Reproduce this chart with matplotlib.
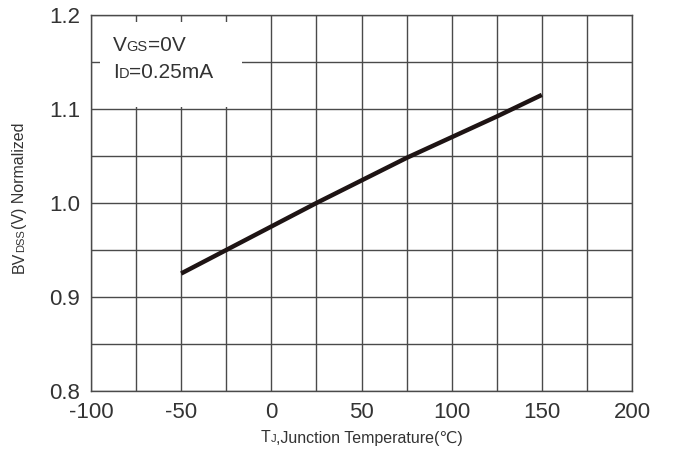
import matplotlib
matplotlib.use("Agg")
import matplotlib.pyplot as plt
from matplotlib import font_manager
from matplotlib.offsetbox import TextArea, HPacker, AnnotationBbox

# Normalized breakdown voltage vs junction temperature
temp_c = [-50, -25, 0, 25, 50, 75, 100, 125, 150]
bvdss_norm = [0.925, 0.950, 0.975, 1.000, 1.024, 1.048, 1.070, 1.092, 1.115]

x_major = [-100, -50, 0, 50, 100, 150, 200]
y_major = [0.8, 0.9, 1.0, 1.1, 1.2]

names = {f.name for f in font_manager.fontManager.ttflist}
fam = "Liberation Sans Narrow" if "Liberation Sans Narrow" in names else "Liberation Sans"
families = [fam, "DejaVu Sans"]
plt.rcParams["font.family"] = families

txt = "#333333"
grid = "#4a4a4a"

W, H = 674, 459
fig = plt.figure(figsize=(W / 100, H / 100), dpi=100)
ax = fig.add_axes([91 / W, 1 - 391 / H, (632 - 91) / W, (391 - 15) / H])

ax.set_xlim(-100, 200)
ax.set_ylim(0.8, 1.2)
xt = list(range(-100, 201, 25))
yt = [round(0.8 + 0.05 * i, 2) for i in range(9)]
ax.set_xticks(xt)
ax.set_yticks(yt)
ax.grid(True, color=grid, linewidth=1.0)
ax.set_axisbelow(True)
ax.tick_params(length=0, pad=8)
ax.set_xticklabels([str(v) if v in x_major else "" for v in xt], fontsize=16, color=txt)
ax.set_yticklabels([f"{v:.1f}" if any(abs(v - m) < 1e-9 for m in y_major) else "" for v in yt],
                   fontsize=16, color=txt)

for s in ax.spines.values():
    s.set_color(grid)
    s.set_linewidth(1.0)

ax.plot(temp_c, bvdss_norm, color="#1e1414", linewidth=3.2,
        solid_capstyle="butt", zorder=3)


def rich(parts):
    """Row of text pieces sharing one baseline (small-caps style subscripts)."""
    return HPacker(children=[TextArea(s, textprops=dict(fontsize=fs, color=txt,
                                                        family=families))
                             for s, fs in parts],
                   align="baseline", pad=0, sep=0)


# test-condition box
ax.add_patch(plt.Rectangle((-95, 1.1025), 78.5, 0.0905, facecolor="white",
                           edgecolor="none", zorder=2))
for y, parts in [(1.168, [("V", 15), ("GS", 10.5), ("=0V", 15)]),
                 (1.139, [("I", 15), ("D", 10.5), ("=0.25mA", 15)])]:
    ab = AnnotationBbox(rich(parts), (-88, y), xycoords="data", frameon=False,
                        box_alignment=(0, 0.5), pad=0, zorder=4)
    ax.add_artist(ab)

# x-axis label
ab = AnnotationBbox(rich([("T", 11.5), ("J", 8), (",Junction Temperature(℃)", 11.5)]),
                    (362 / W, 1 - 438 / H), xycoords="figure fraction",
                    frameon=False, box_alignment=(0.5, 0.5), pad=0)
fig.add_artist(ab)

# y-axis label: pieces measured horizontally, then rotated and stacked upward
fig.canvas.draw()
renderer = fig.canvas.get_renderer()
ypieces = [("BV", 11.5), ("DSS", 8), ("(V) Normalized", 11.5)]
arts, widths = [], []
for s, fs in ypieces:
    t = fig.text(0, 0, s, fontsize=fs, color=txt, rotation=0,
                 ha="left", va="baseline", family=families)
    widths.append(t.get_window_extent(renderer).width)
    arts.append(t)
total = sum(widths)
base_x = 24
start = (H - 198) - total / 2
offset = 0.0
for t, w in zip(arts, widths):
    t.set_rotation(90)
    t.set_rotation_mode("anchor")
    t.set_position((base_x / W, (start + offset) / H))
    offset += w

fig.savefig("out.png", dpi=100)
